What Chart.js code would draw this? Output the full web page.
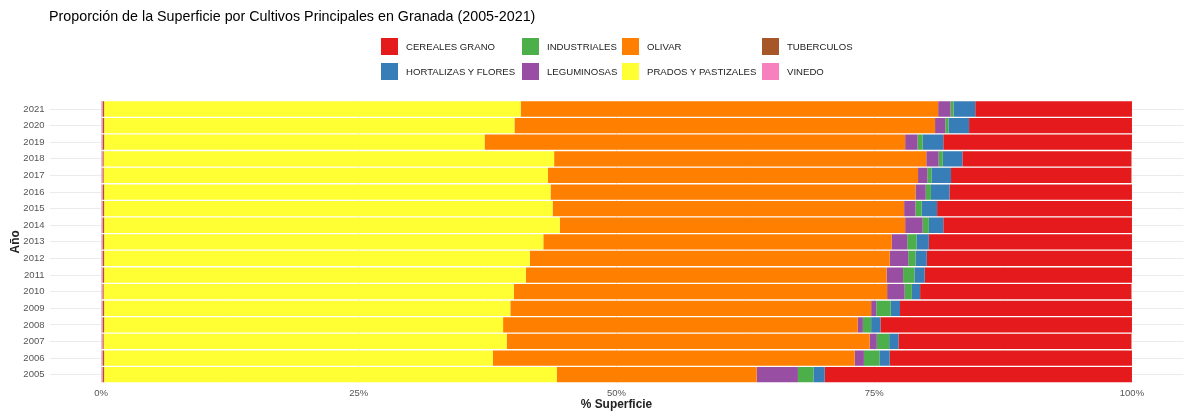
<!DOCTYPE html>
<html>
<head>
<meta charset="utf-8">
<script src="https://cdn.jsdelivr.net/npm/chart.js@4"></script>
<style>
  body { margin: 0; background: #fff; font-family: 'Liberation Sans', Arial, sans-serif; }
  #wrap { position: relative; width: 1192px; height: 412px; }
  #title { position: absolute; left: 49px; top: 8px; font-size: 14.3px; color: #000; white-space: nowrap; }
  #legend { position: absolute; left: 381px; top: 38px; }
  .item { position: absolute; display: flex; align-items: center; white-space: nowrap; font-size: 9.6px; color: #222; }
  .key { width: 17px; height: 17px; margin-right: 8px; }
</style>
</head>
<body>
<div id="wrap">
  <canvas id="chart" width="1192" height="412"></canvas>
  <div id="title">Proporción de la Superficie por Cultivos Principales en Granada (2005-2021)</div>
  <div id="legend"></div>
</div>
<script>
const years = ['2005', '2006', '2007', '2008', '2009', '2010', '2011', '2012', '2013',
    '2014', '2015', '2016', '2017', '2018', '2019', '2020', '2021'];

// % of surface per crop, 2005 -> 2021
const vinedo = [0.15, 0.15, 0.15, 0.15, 0.15, 0.15, 0.15, 0.15, 0.15, 0.15, 0.15, 0.15, 0.15, 0.15, 0.15, 0.15, 0.15];
const tuberculos = [0.15, 0.15, 0.1, 0.15, 0.15, 0.1, 0.15, 0.15, 0.15, 0.15, 0.15, 0.15, 0.1, 0.1, 0.15, 0.15, 0.15];
const prados = [43.9, 37.7, 39.1, 38.7, 39.4, 39.8, 40.9, 41.3, 42.6, 44.2, 43.5, 43.3, 43.1, 43.7, 36.9, 39.8, 40.4];
const olivar = [19.4, 35.1, 35.2, 34.4, 35.0, 36.2, 35.0, 34.9, 33.8, 33.5, 34.1, 35.4, 35.9, 36.1, 40.8, 40.8, 40.5];
const leguminosas = [4.0, 0.9, 0.7, 0.5, 0.5, 1.7, 1.6, 1.8, 1.5, 1.7, 1.1, 1.0, 0.9, 1.2, 1.2, 1.0, 1.2];
const industriales = [1.5, 1.5, 1.2, 0.8, 1.4, 0.7, 1.1, 0.7, 0.9, 0.6, 0.6, 0.5, 0.4, 0.4, 0.5, 0.3, 0.3];
const hortalizas = [1.1, 1.0, 0.9, 0.9, 0.9, 0.8, 1.0, 1.1, 1.2, 1.4, 1.5, 1.8, 1.9, 1.9, 2.0, 2.0, 2.1];
const cereales = [29.8, 23.5, 22.6, 24.4, 22.5, 20.5, 20.1, 19.9, 19.7, 18.3, 18.9, 17.7, 17.5, 16.4, 18.3, 15.8, 15.2];

const xTicks = [0, 12.5, 25, 37.5, 50, 62.5, 75, 87.5, 100];

// stacking order left -> right
const series = [
    { label: 'VINEDO', data: vinedo, color: '#F781BF' },
    { label: 'TUBERCULOS', data: tuberculos, color: '#A65628' },
    { label: 'PRADOS Y PASTIZALES', data: prados, color: '#FFFF33' },
    { label: 'OLIVAR', data: olivar, color: '#FF7F00' },
    { label: 'LEGUMINOSAS', data: leguminosas, color: '#984EA3' },
    { label: 'INDUSTRIALES', data: industriales, color: '#4DAF4A' },
    { label: 'HORTALIZAS Y FLORES', data: hortalizas, color: '#377EB8' },
    { label: 'CEREALES GRANO', data: cereales, color: '#E41A1C' },
];

// legend, ggplot style: column-major, 2 rows
const legendOrder = ['CEREALES GRANO', 'HORTALIZAS Y FLORES', 'INDUSTRIALES', 'LEGUMINOSAS',
    'OLIVAR', 'PRADOS Y PASTIZALES', 'TUBERCULOS', 'VINEDO'];
const colX = [0, 141, 241, 381];
const legend = document.getElementById('legend');
legendOrder.forEach((name, i) => {
    const s = series.find((d) => d.label === name);
    const el = document.createElement('div');
    el.className = 'item';
    el.style.left = colX[Math.floor(i / 2)] + 'px';
    el.style.top = (i % 2) * 25 + 'px';
    el.innerHTML = `<span class="key" style="background:${s.color}"></span>${name}`;
    legend.appendChild(el);
});

const tickFont = { family: "'Liberation Sans', Arial, sans-serif", size: 9.5 };
const titleFont = { family: "'Liberation Sans', Arial, sans-serif", size: 11.9, weight: 'bold' };

new Chart(document.getElementById('chart'), {
    type: 'bar',
    data: {
        labels: years,
        datasets: series.map((s) => ({
            label: s.label,
            data: s.data,
            backgroundColor: s.color,
            borderWidth: 0,
            categoryPercentage: 1,
            barPercentage: 0.92,
        })),
    },
    options: {
        indexAxis: 'y',
        responsive: false,
        devicePixelRatio: 1,
        animation: false,
        layout: { padding: { top: 100.7, right: 8.5, left: 0, bottom: 0 } },
        plugins: { legend: { display: false }, tooltip: { enabled: false } },
        scales: {
            x: {
                stacked: true,
                min: -5,
                max: 105,
                afterBuildTicks: (scale) => {
                    scale.ticks = xTicks.map((v) => ({ value: v }));
                },
                afterFit: (scale) => {
                    scale.height = 29;
                },
                border: { display: false },
                grid: {
                    drawTicks: false,
                    color: (ctx) => (ctx.tick && ctx.tick.value % 25 === 0 ? '#ebebeb' : '#f5f5f5'),
                    lineWidth: (ctx) => (ctx.tick && ctx.tick.value % 25 === 0 ? 1 : 0.6),
                },
                ticks: {
                    autoSkip: false,
                    maxRotation: 0,
                    padding: 5,
                    color: '#555',
                    font: tickFont,
                    callback: (v) => (v % 25 === 0 ? v + '%' : ''),
                },
                title: {
                    display: true,
                    text: '% Superficie',
                    color: '#222',
                    font: titleFont,
                    padding: { top: 0, bottom: 0 },
                },
            },
            y: {
                stacked: true,
                reverse: true,
                afterFit: (scale) => {
                    scale.width = 49.5;
                },
                border: { display: false },
                grid: { offset: false, drawTicks: false, color: '#ebebeb' },
                ticks: { padding: 5, color: '#555', font: tickFont },
                title: {
                    display: true,
                    text: 'Año',
                    color: '#222',
                    font: titleFont,
                    padding: { top: 9, bottom: 0 },
                },
            },
        },
    },
});
</script>
</body>
</html>
